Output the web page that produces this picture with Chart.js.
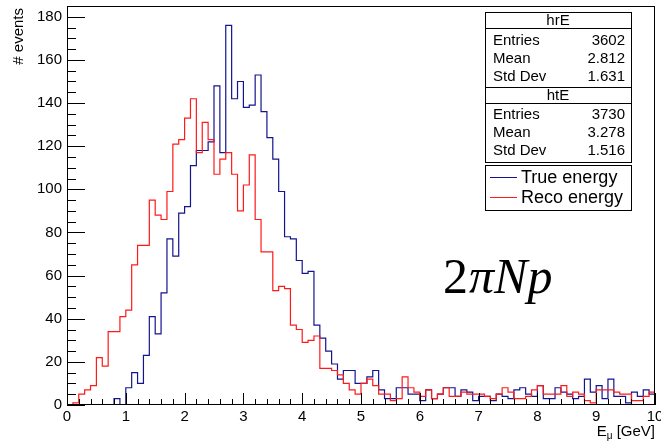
<!DOCTYPE html>
<html>
<head>
<meta charset="utf-8">
<script src="https://cdn.jsdelivr.net/npm/chart.js@4.4.0/dist/chart.umd.min.js"></script>
<style>
body{margin:0;background:#fff;}
canvas{display:block;}
</style>
</head>
<body>
<canvas id="hist" width="661" height="443"></canvas>
<script>
// binning of both histograms
const xMin = 0, xMax = 10, binWidth = 0.1;
const yMax = 185;
const yTicks = [0, 20, 40, 60, 80, 100, 120, 140, 160, 180];

// counts per 0.1 GeV bin
const trueEnergy = [
  0, 0, 0, 0, 0, 0, 0, 0, 3, 0,
  8, 15, 10, 23, 41, 33, 52, 77, 69, 89,
  92, 111, 118, 118, 122, 148, 117, 176, 142, 150,
  138, 139, 153, 136, 124, 114, 99, 78, 77, 67,
  61, 62, 37, 31, 25, 19, 12, 16, 16, 10,
  10, 13, 16, 7, 3, 3, 8, 8, 5, 5,
  2, 7, 3, 5, 8, 8, 4, 7, 6, 2,
  4, 4, 2, 5, 4, 3, 7, 8, 5, 4,
  9, 3, 3, 8, 6, 5, 3, 4, 12, 6,
  9, 3, 12, 4, 4, 1, 6, 4, 7, 5
];
const recoEnergy = [
  0, 1, 5, 7, 9, 22, 18, 34, 34, 41,
  44, 65, 74, 74, 95, 88, 86, 99, 121, 123,
  133, 142, 117, 131, 123, 107, 114, 117, 107, 90,
  102, 116, 86, 71, 71, 53, 55, 54, 37, 35,
  29, 30, 32, 17, 17, 16, 14, 10, 7, 5,
  10, 12, 9, 5, 5, 2, 3, 13, 8, 6,
  4, 7, 3, 5, 8, 4, 4, 6, 5, 5,
  5, 4, 3, 5, 8, 6, 3, 3, 4, 7,
  9, 5, 5, 5, 9, 4, 6, 5, 2, 1,
  7, 7, 7, 6, 5, 5, 2, 2, 4, 6
];

// stats boxes
const statNames = ['hrE', 'htE'];
const statLabels = ['Entries', 'Mean', 'Std Dev'];
const statValues = [['3602', '2.812', '1.631'], ['3730', '3.278', '1.516']];

const legendLabels = ['True energy', 'Reco energy'];
const blue = '#14148f';
const red = '#ff1a1a';

// histogram -> step points (bin low edges + closing edge)
function toSteps(vals) {
  const pts = vals.map((v, i) => ({x: xMin + i * binWidth, y: v}));
  pts.push({x: xMax, y: vals[vals.length - 1]});
  return pts;
}

const FONT = "'Liberation Sans', Arial, sans-serif";
Chart.defaults.font.family = FONT;
Chart.defaults.color = '#000';

// ROOT look: inner ticks, frame, stats, legend, titles
const rootStyle = {
  id: 'rootStyle',
  afterDraw(chart) {
    const {ctx, chartArea: a, scales: {x, y}} = chart;
    ctx.save();
    ctx.strokeStyle = '#000';
    ctx.fillStyle = '#000';
    ctx.lineWidth = 1;

    ctx.strokeRect(a.left + 0.5, a.top + 0.5, a.right - a.left - 1, a.bottom - a.top - 1);

    ctx.beginPath();
    for (let i = 0; i <= 50; i++) {
      const px = Math.round(x.getPixelForValue(xMin + i * 0.2)) + 0.5;
      const len = i % 5 === 0 ? 12 : 6;
      ctx.moveTo(px, a.bottom);
      ctx.lineTo(px, a.bottom - len);
    }
    for (let v = 0; v <= yMax; v += 5) {
      const py = Math.round(y.getPixelForValue(v)) + 0.5;
      const len = v % 20 === 0 ? 18 : 9;
      ctx.moveTo(a.left, py);
      ctx.lineTo(a.left + len, py);
    }
    ctx.stroke();

    // axis titles
    ctx.font = '15px ' + FONT;
    ctx.save();
    ctx.translate(19, 8);
    ctx.rotate(-Math.PI / 2);
    ctx.textAlign = 'right';
    ctx.textBaseline = 'middle';
    ctx.fillText('# events', 0, 0);
    ctx.restore();

    ctx.textBaseline = 'alphabetic';
    ctx.textAlign = 'left';
    const wE = ctx.measureText('E').width;
    const wG = ctx.measureText(' [GeV]').width;
    ctx.font = '10px ' + FONT;
    const wMu = ctx.measureText('μ').width;
    let tx = a.right - (wE + wMu + wG);
    ctx.font = '15px ' + FONT;
    ctx.fillText('E', tx, 436);
    ctx.font = '10px ' + FONT;
    ctx.fillText('μ', tx + wE, 439);
    ctx.font = '15px ' + FONT;
    ctx.fillText(' [GeV]', tx + wE + wMu, 436);

    // stats box
    const sL = 485, sR = 631, sC = (sL + sR) / 2;
    const blocks = [
      {top: 12, head: 28, rows: [41, 59, 77], bottom: 87},
      {top: 87, head: 103, rows: [115, 133, 151], bottom: 162}
    ];
    ctx.fillStyle = '#fff';
    ctx.fillRect(sL, 12, sR - sL, 162 - 12);
    ctx.fillStyle = '#000';
    ctx.strokeRect(sL + 0.5, 12.5, sR - sL, 162 - 12);
    ctx.font = '15px ' + FONT;
    ctx.textBaseline = 'middle';
    blocks.forEach((b, k) => {
      ctx.beginPath();
      ctx.moveTo(sL, b.head + 0.5); ctx.lineTo(sR, b.head + 0.5);
      ctx.moveTo(sL, b.bottom + 0.5); ctx.lineTo(sR, b.bottom + 0.5);
      ctx.stroke();
      ctx.textAlign = 'center';
      ctx.fillText(statNames[k], sC, (b.top + b.head) / 2 + 1);
      b.rows.forEach((ry, r) => {
        ctx.textAlign = 'left';
        ctx.fillText(statLabels[r], sL + 8, ry);
        ctx.textAlign = 'right';
        ctx.fillText(statValues[k][r], sR - 6, ry);
      });
    });

    // legend
    ctx.fillStyle = '#fff';
    ctx.fillRect(sL, 165, sR - sL, 45);
    ctx.fillStyle = '#000';
    ctx.strokeRect(sL + 0.5, 165.5, sR - sL, 45);
    ctx.font = '18px ' + FONT;
    ctx.textAlign = 'left';
    [[blue, 177.5], [red, 197.5]].forEach(([c, ly], i) => {
      ctx.strokeStyle = c;
      ctx.beginPath();
      ctx.moveTo(490, ly); ctx.lineTo(517, ly);
      ctx.stroke();
      ctx.fillText(legendLabels[i], 521, ly + 1);
    });

    // channel label
    ctx.textBaseline = 'alphabetic';
    ctx.font = '50px "Liberation Serif", serif';
    ctx.fillText('2', 443, 293);
    const w2 = ctx.measureText('2').width;
    ctx.font = 'italic 50px "Liberation Serif", serif';
    ctx.fillText('πNp', 443 + w2 + 1, 293);

    ctx.restore();
  }
};

new Chart(document.getElementById('hist'), {
  type: 'line',
  plugins: [rootStyle],
  data: {
    datasets: [
      {label: 'Reco energy', data: toSteps(recoEnergy), borderColor: red},
      {label: 'True energy', data: toSteps(trueEnergy), borderColor: blue}
    ]
  },
  options: {
    responsive: false,
    animation: false,
    events: [],
    layout: {padding: {left: 0, right: 6, top: 6, bottom: 0}},
    elements: {
      line: {stepped: 'before', borderWidth: 1.2, tension: 0},
      point: {radius: 0}
    },
    plugins: {legend: {display: false}, tooltip: {enabled: false}},
    scales: {
      x: {
        type: 'linear', min: xMin, max: xMax,
        grid: {display: false, drawTicks: false},
        border: {display: false},
        ticks: {stepSize: 1, maxRotation: 0, padding: 3, font: {size: 15}},
        afterFit(s) { s.height = 38; s.paddingLeft = 0; s.paddingRight = 0; }
      },
      y: {
        min: 0, max: yMax,
        grid: {display: false, drawTicks: false},
        border: {display: false},
        ticks: {padding: 5, font: {size: 15}},
        afterBuildTicks(s) { s.ticks = yTicks.map(v => ({value: v})); },
        afterFit(s) { s.width = 67; s.paddingTop = 0; s.paddingBottom = 0; }
      }
    }
  }
});
</script>
</body>
</html>
